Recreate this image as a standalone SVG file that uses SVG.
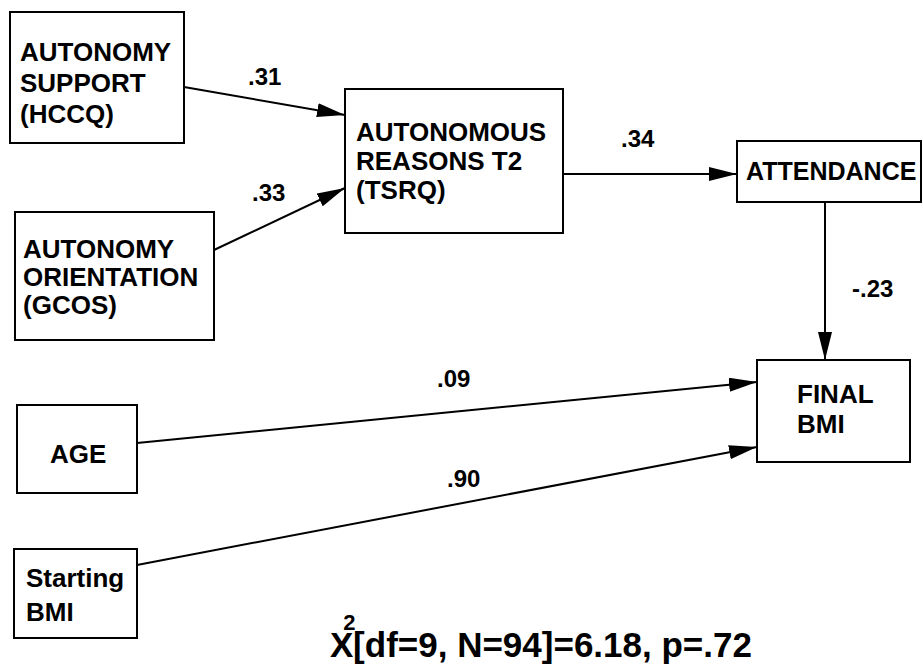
<svg xmlns="http://www.w3.org/2000/svg" width="923" height="666" viewBox="0 0 923 666">
<defs>
<style>
.box{fill:#fff;stroke:#000;stroke-width:2}
.t{font-family:"Liberation Sans",Arial,sans-serif;font-weight:bold;font-size:26px;fill:#000}
.lbl{font-family:"Liberation Sans",Arial,sans-serif;font-weight:bold;font-size:24px;fill:#000}
.edge{stroke:#000;stroke-width:2;fill:none;marker-end:url(#arr)}
</style>
<marker id="arr" markerUnits="userSpaceOnUse" markerWidth="28" markerHeight="14" refX="28" refY="7" orient="auto">
<path d="M0,0 L28,7 L0,14 z" fill="#000"/>
</marker>
</defs>
<rect width="923" height="666" fill="#fff"/>
<g id="connectors">
<line class="edge" x1="184" y1="87" x2="345" y2="115"/>
<line class="edge" x1="214" y1="250" x2="345" y2="188"/>
<line class="edge" x1="563" y1="174" x2="737" y2="174"/>
<line class="edge" x1="825" y1="202" x2="825" y2="360"/>
<line class="edge" x1="137" y1="443" x2="757" y2="382"/>
<line class="edge" x1="137" y1="565" x2="757" y2="447"/>
<text class="lbl" x="248" y="85">.31</text>
<text class="lbl" x="252" y="201">.33</text>
<text class="lbl" x="621" y="147">.34</text>
<text class="lbl" x="852" y="297">-.23</text>
<text class="lbl" x="437" y="387">.09</text>
<text class="lbl" x="447" y="487">.90</text>
</g>
<g id="autonomy-support">
<rect class="box" x="10" y="12" width="174" height="131"/>
<text class="t" x="20" y="61">AUTONOMY</text>
<text class="t" x="20" y="92">SUPPORT</text>
<text class="t" x="20" y="123">(HCCQ)</text>
</g>
<g id="autonomy-orientation">
<rect class="box" x="15" y="212" width="199" height="128"/>
<text class="t" x="23" y="258">AUTONOMY</text>
<text class="t" x="23" y="286">ORIENTATION</text>
<text class="t" x="23" y="314">(GCOS)</text>
</g>
<g id="autonomous-reasons">
<rect class="box" x="345" y="89" width="218" height="144"/>
<text class="t" x="356" y="141">AUTONOMOUS</text>
<text class="t" x="356" y="170">REASONS T2</text>
<text class="t" x="356" y="199">(TSRQ)</text>
</g>
<g id="attendance">
<rect class="box" x="737" y="141" width="184" height="61"/>
<text class="t" x="746" y="180" style="font-size:25px">ATTENDANCE</text>
</g>
<g id="final-bmi">
<rect class="box" x="757" y="360" width="153" height="102"/>
<text class="t" x="797" y="403">FINAL</text>
<text class="t" x="797" y="433">BMI</text>
</g>
<g id="age">
<rect class="box" x="17" y="405" width="120" height="88"/>
<text class="t" x="50" y="463">AGE</text>
</g>
<g id="starting-bmi">
<rect class="box" x="14" y="549" width="123" height="89"/>
<text class="t" x="26" y="587">Starting</text>
<text class="t" x="26" y="621">BMI</text>
</g>
<g id="fit">
<text class="t" x="330" y="657" style="font-size:35px">X<tspan dx="-10" dy="-27" style="font-size:22px">2</tspan><tspan dx="-2.5" dy="27">[df=9, N=94]=6.18, p=.72</tspan></text>
</g>
</svg>
